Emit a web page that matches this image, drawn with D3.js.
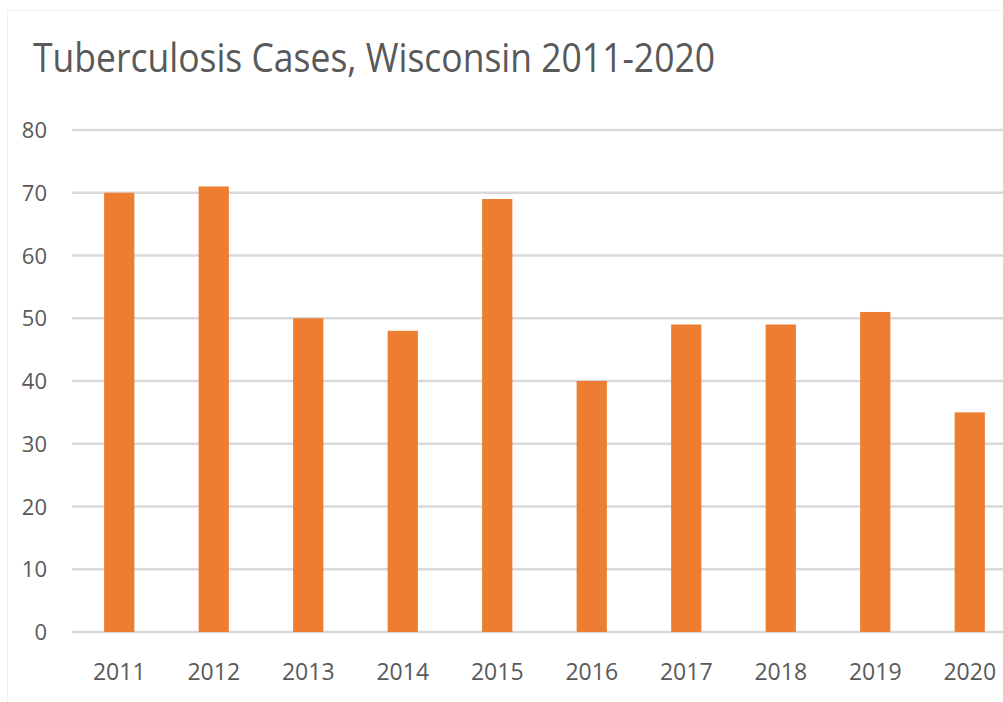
<!DOCTYPE html>
<html>
<head>
<meta charset="utf-8">
<script src="https://cdn.jsdelivr.net/npm/d3@7"></script>
<style>
  html, body { margin: 0; padding: 0; background: #fff; }
  svg { display: block; }
  text { font-family: "Open Sans", "Noto Sans", sans-serif; fill: #595959; }
</style>
</head>
<body>
<svg id="chart" width="1003" height="702"></svg>
<script>
// Reported tuberculosis cases per year
const years = ["2011", "2012", "2013", "2014", "2015", "2016", "2017", "2018", "2019", "2020"];
const cases = [70, 71, 50, 48, 69, 40, 49, 49, 51, 35];
const yTicks = [0, 10, 20, 30, 40, 50, 60, 70, 80];
const titleText = "Tuberculosis Cases, Wisconsin 2011-2020";

const svg = d3.select("#chart");
const W = 1003, H = 702;

// faint chart-area border
svg.append("rect")
  .attr("x", 7.5).attr("y", 10.5)
  .attr("width", W).attr("height", H)
  .attr("fill", "none")
  .attr("stroke", "#f0f0f0")
  .attr("stroke-width", 1);

const plot = { left: 72, right: 1017, top: 130, bottom: 632 };

const x = d3.scaleBand()
  .domain(years)
  .range([plot.left, plot.right])
  .paddingInner(0.68)
  .paddingOuter(0.34);

const y = d3.scaleLinear()
  .domain([0, 80])
  .range([plot.bottom, plot.top]);

// horizontal gridlines
svg.append("g")
  .selectAll("line")
  .data(yTicks)
  .join("line")
  .attr("x1", plot.left)
  .attr("x2", plot.right)
  .attr("y1", d => y(d))
  .attr("y2", d => y(d))
  .attr("stroke", "#d9d9d9")
  .attr("stroke-width", 2.5);

// y tick labels
const yAxis = d3.axisLeft(y).tickValues(yTicks).tickSize(0).tickPadding(0);
const gy = svg.append("g")
  .attr("transform", `translate(${47},0)`)
  .call(yAxis);
gy.select(".domain").remove();
gy.selectAll("text")
  .attr("font-size", 22)
  .attr("font-family", null)
  .attr("fill", "#595959")
  .attr("dy", "0.35em");

// bars
svg.append("g")
  .selectAll("rect")
  .data(years.map((yr, i) => ({ yr, v: cases[i] })))
  .join("rect")
  .attr("x", d => x(d.yr))
  .attr("width", x.bandwidth())
  .attr("y", d => y(d.v))
  .attr("height", d => y(0) - y(d.v))
  .attr("fill", "#ED7D31");

// x tick labels
const xAxis = d3.axisBottom(x).tickSize(0).tickPadding(0);
const gx = svg.append("g")
  .attr("transform", `translate(0,${680})`)
  .call(xAxis);
gx.select(".domain").remove();
gx.selectAll("text")
  .attr("font-size", 23)
  .attr("font-family", null)
  .attr("fill", "#595959")
  .attr("dy", 0)
  .attr("y", 0);

// title
const title = svg.append("text")
  .attr("x", 33)
  .attr("y", 72)
  .attr("font-size", 40)
  .attr("fill", "#595959")
  .text(titleText);
const targetWidth = 682;
const w = title.node().getComputedTextLength();
if (Math.abs(w - targetWidth) > 4) {
  title.attr("textLength", targetWidth).attr("lengthAdjust", "spacingAndGlyphs");
}
</script>
</body>
</html>
